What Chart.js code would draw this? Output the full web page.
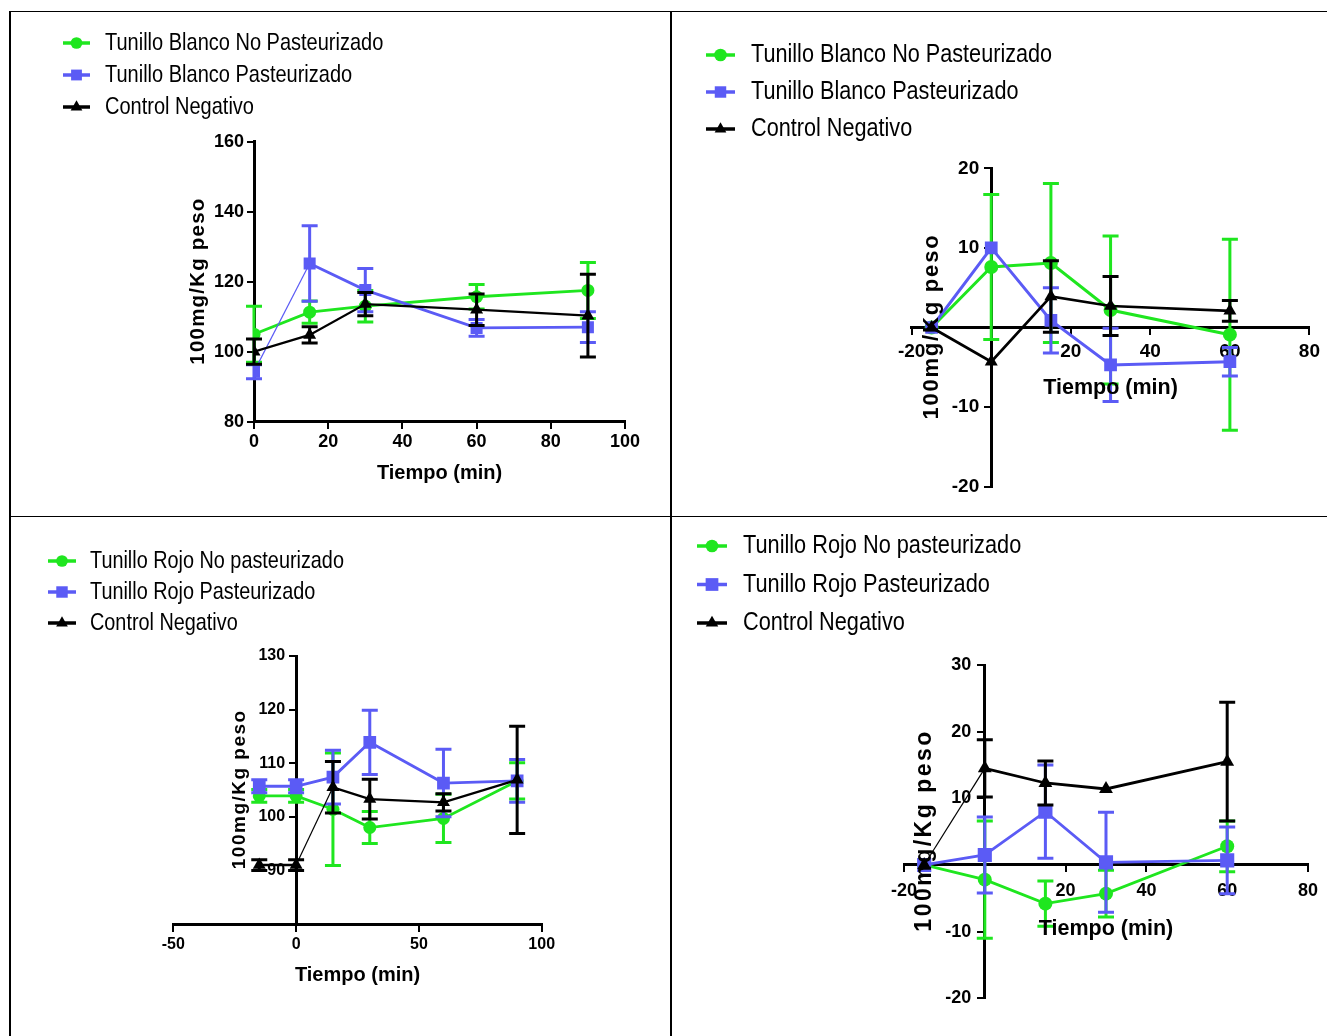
<!DOCTYPE html>
<html>
<head>
<meta charset="utf-8">
<script src="https://cdn.jsdelivr.net/npm/chart.js@4.4.1/dist/chart.umd.min.js"></script>
<style>
  html, body { margin: 0; padding: 0; background: #fff; }
  #page { position: relative; width: 1327px; height: 1036px; overflow: hidden; background: #fff; }
  .cell { position: absolute; }
  .cell canvas { display: block; }
  .rule { position: absolute; background: #000; }
</style>
</head>
<body>
<div id="page">
  <div class="rule" style="left:9px;top:11px;width:1318px;height:1px"></div>
  <div class="rule" style="left:9px;top:11px;width:2px;height:1025px"></div>
  <div class="rule" style="left:670px;top:11px;width:2px;height:1025px"></div>
  <div class="rule" style="left:9px;top:516px;width:1318px;height:1px"></div>
  <div class="cell" style="left:11px;top:12px"><canvas id="chart1"></canvas></div>
  <div class="cell" style="left:672px;top:12px"><canvas id="chart2"></canvas></div>
  <div class="cell" style="left:11px;top:517px"><canvas id="chart3"></canvas></div>
  <div class="cell" style="left:672px;top:517px"><canvas id="chart4"></canvas></div>
</div>
<script>
// ---- data ----
const xTitle = 'Tiempo (min)';
const yTitle = '100mg/Kg peso';
const labelsBlanco = ['Tunillo Blanco No Pasteurizado', 'Tunillo Blanco Pasteurizado', 'Control Negativo'];
const labelsRojo = ['Tunillo Rojo No pasteurizado', 'Tunillo Rojo Pasteurizado', 'Control Negativo'];

// top left: Tunillo Blanco
const timeBlanco = [0, 15, 30, 60, 90];
const blancoNoPast = [105, 111.3, 113, 115.7, 117.5];
const blancoNoPastErr = [8, 3.2, 4.5, 3.5, 8];
const blancoPast = [94.3, 125.2, 117.6, 106.8, 107];
const blancoPastErr = [2, 10.8, 6.2, 2.4, 4.4];
const blancoControl = [100, 104.8, 113.6, 112, 110.3];
const blancoControlErr = [3.6, 2.3, 3.3, 4.5, 11.8];

// top right: Tunillo Blanco, change
const timeBlancoDelta = [-15, 0, 15, 30, 60];
const blancoNoPastDelta = [0, 7.6, 8.1, 2.2, -0.9];
const blancoNoPastDeltaErr = [0, 9.1, 10, 9.3, 12];
const blancoPastDelta = [0, 10, 0.9, -4.7, -4.3];
const blancoPastDeltaErr = [0, 0, 4.1, 4.6, 1.8];
const blancoControlDelta = [0, -4.3, 3.9, 2.7, 2.1];
const blancoControlDeltaErr = [0, 0, 4.5, 3.7, 1.3];

// bottom left: Tunillo Rojo
const timeRojo = [-15, 0, 15, 30, 60, 90];
const rojoNoPast = [103.9, 103.9, 101.4, 98, 99.7, 106.7];
const rojoNoPastErr = [1.2, 1.2, 10.5, 3, 4.5, 3.4];
const rojoPast = [105.7, 105.7, 107.4, 113.9, 106.3, 106.7];
const rojoPastErr = [1.2, 1.2, 5, 6, 6.3, 4];
const rojoControl = [91, 91, 105.5, 103.3, 102.7, 106.9];
const rojoControlErr = [1, 1, 4.8, 3.7, 1.6, 10];

// bottom right: Tunillo Rojo, change
const timeRojoDelta = [-15, 0, 15, 30, 60];
const rojoNoPastDelta = [0, -2.2, -5.8, -4.3, 2.8];
const rojoNoPastDeltaErr = [0, 8.8, 3.4, 3.5, 3.8];
const rojoPastDelta = [0, 1.5, 8, 0.4, 0.7];
const rojoPastDeltaErr = [0, 5.7, 7, 7.5, 5];
const rojoControlDelta = [0, 14.5, 12.3, 11.4, 15.5];
const rojoControlDeltaErr = [0, 4.3, 3.3, 0, 8.9];

// ---- styling ----
const GREEN = '#1fe61f';
const BLUE = '#5b5bf5';
const BLACK = '#000000';
const FONT = '"Liberation Sans", Arial, Helvetica, sans-serif';

function hasFont(name) {
  const c = document.createElement('canvas').getContext('2d');
  c.font = '40px monospace';
  const a = c.measureText('Tunillo Blanco').width;
  c.font = `40px "${name}", monospace`;
  const b = c.measureText('Tunillo Blanco').width;
  return a !== b;
}
const narrowOk = hasFont('Liberation Sans Narrow');

// error bars drawn under each dataset's line and markers
const errorBars = {
  id: 'errorBars',
  beforeDatasetDraw(chart, args) {
    const ds = chart.data.datasets[args.index];
    if (!ds.errors) return;
    const { ctx, scales: { x, y } } = chart;
    const cap = ds.capHalf || 8;
    ctx.save();
    ctx.strokeStyle = ds.borderColor;
    ctx.lineWidth = ds.errorWidth || 3;
    ds.data.forEach((pt, i) => {
      const e = ds.errors[i];
      if (!e) return;
      const px = x.getPixelForValue(pt.x);
      const top = y.getPixelForValue(pt.y + e);
      const bot = y.getPixelForValue(pt.y - e);
      ctx.beginPath();
      ctx.moveTo(px, top); ctx.lineTo(px, bot);
      ctx.moveTo(px - cap, top); ctx.lineTo(px + cap, top);
      ctx.moveTo(px - cap, bot); ctx.lineTo(px + cap, bot);
      ctx.stroke();
    });
    ctx.restore();
  }
};

// centred y axes put their labels right on the axis line; push them left
const yLabelGap = {
  id: 'yLabelGap',
  beforeDraw(chart, args, opts) {
    const ys = chart.scales.y, xs = chart.scales.x;
    if (typeof ys.getLabelItems !== 'function') return;
    const axisX = xs.getPixelForValue(ys.options.position.x);
    ys.getLabelItems().forEach(item => {
      item.options.translation[0] = axisX - opts.gap;
      item.options.textAlign = 'right';
    });
  }
};

const axisTitles = {
  id: 'axisTitles',
  afterDraw(chart, args, opts) {
    const { ctx, scales: { x, y } } = chart;
    const axisY = y.getPixelForValue(x.options.position.y);
    const axisX = x.getPixelForValue(y.options.position.x);
    ctx.save();
    ctx.fillStyle = '#000';
    ctx.textAlign = 'center';
    ctx.textBaseline = 'middle';
    ctx.font = `bold ${opts.xSize}px ${FONT}`;
    ctx.fillText(xTitle, (x.left + x.right) / 2, axisY + opts.xOffset);
    ctx.translate(axisX - opts.yOffset, (y.top + y.bottom) / 2);
    ctx.rotate(-Math.PI / 2);
    ctx.font = `bold ${opts.ySize}px ${FONT}`;
    ctx.letterSpacing = opts.ySpacing + 'px';
    ctx.fillText(yTitle, opts.ySpacing / 2, 0);
    ctx.restore();
  }
};

const sideLegend = {
  id: 'sideLegend',
  afterDraw(chart, args, opts) {
    const { ctx } = chart;
    chart.data.datasets.forEach((ds, i) => {
      const cy = opts.top + i * opts.gap;
      ctx.save();
      ctx.strokeStyle = ds.borderColor;
      ctx.fillStyle = ds.borderColor;
      ctx.lineWidth = 3.5;
      ctx.beginPath();
      ctx.moveTo(opts.left, cy);
      ctx.lineTo(opts.left + opts.len, cy);
      ctx.stroke();
      Chart.helpers.drawPoint(ctx, { pointStyle: ds.pointStyle, radius: ds.pointRadius * 0.9, borderWidth: 0, rotation: 0 },
        opts.left + opts.len / 2, cy);
      ctx.fillStyle = '#000';
      ctx.textBaseline = 'middle';
      ctx.textAlign = 'left';
      if (narrowOk) {
        ctx.font = `${opts.size}px "Liberation Sans Narrow", "Arial Narrow", sans-serif`;
        ctx.fillText(ds.label, opts.textX, cy);
      } else {
        ctx.font = `${opts.size}px ${FONT}`;
        ctx.translate(opts.textX, cy);
        ctx.scale(0.82, 1);
        ctx.fillText(ds.label, 0, 0);
      }
      ctx.restore();
    });
  }
};

function series(label, time, values, errs, color, style, radius, width, thin) {
  return {
    label,
    data: time.map((t, i) => ({ x: t, y: values[i] })),
    errors: errs,
    showLine: true,
    borderColor: color,
    backgroundColor: color,
    borderWidth: width,
    pointStyle: style,
    pointRadius: radius,
    pointBorderWidth: 0,
    pointBackgroundColor: color,
    tension: 0,
    segment: {
      borderWidth: ctx => (thin && thin.includes(ctx.p0DataIndex)) ? 1.2 : undefined
    }
  };
}

function makeChart(id, p) {
  const cell = p.cell;
  const canvas = document.getElementById(id);
  canvas.width = cell.w;
  canvas.height = cell.h;
  canvas.style.width = cell.w + 'px';
  canvas.style.height = cell.h + 'px';
  const tickFont = { family: FONT, size: p.tickSize, weight: 'bold' };
  const grid = { drawOnChartArea: false, drawTicks: true, tickLength: 6, color: '#000', lineWidth: 2 };
  const border = { display: true, color: '#000', width: 3 };
  const datasets = [
    series(p.labels[0], p.time, p.values[0], p.errs[0], GREEN, 'circle', p.radius[0], p.widths[0], p.thin[0]),
    series(p.labels[1], p.time, p.values[1], p.errs[1], BLUE, 'rect', p.radius[1], p.widths[1], p.thin[1]),
    series(p.labels[2], p.time, p.values[2], p.errs[2], BLACK, 'triangle', p.radius[2], p.widths[2], p.thin[2])
  ];
  datasets[0].order = 2;
  datasets[1].order = 1;
  datasets[2].order = 0;
  return new Chart(canvas, {
    type: 'scatter',
    data: { datasets },
    options: {
      responsive: false,
      animation: false,
      events: [],
      layout: {
        padding: {
          left: p.plot.left - cell.x,
          top: p.plot.top - cell.y,
          right: cell.x + cell.w - p.plot.right,
          bottom: cell.y + cell.h - p.plot.bottom
        }
      },
      scales: {
        x: {
          type: 'linear',
          position: { y: p.xAxisAt },
          min: p.xMin, max: p.xMax,
          ticks: { stepSize: p.xStep, font: tickFont, color: '#000', padding: p.xPad, maxRotation: 0,
                   callback: v => p.hideX.includes(v) ? '' : String(v) },
          grid, border
        },
        y: {
          type: 'linear',
          position: { x: p.yAxisAt },
          min: p.yMin, max: p.yMax,
          ticks: { stepSize: p.yStep, font: tickFont, color: '#000',
                   callback: v => p.hideY.includes(v) ? '' : String(v) },
          grid, border
        }
      },
      plugins: {
        legend: { display: false },
        tooltip: { enabled: false },
        yLabelGap: { gap: p.yGap },
        axisTitles: p.titles,
        sideLegend: p.legend
      }
    },
    plugins: [errorBars, yLabelGap, axisTitles, sideLegend]
  });
}

function local(p) {
  // legend given in page coordinates -> cell coordinates
  p.legend = {
    left: p.legend.left - p.cell.x, len: p.legend.len, textX: p.legend.textX - p.cell.x,
    top: p.legend.top - p.cell.y, gap: p.legend.gap, size: p.legend.size
  };
  return p;
}

makeChart('chart1', local({
  cell: { x: 11, y: 12, w: 659, h: 504 },
  plot: { left: 254, right: 625, top: 141.7, bottom: 421.7 },
  xMin: 0, xMax: 100, xStep: 20, yMin: 80, yMax: 160, yStep: 20,
  xAxisAt: 80, yAxisAt: 0, hideX: [], hideY: [],
  tickSize: 18, xPad: 4, yGap: 10,
  labels: labelsBlanco, time: timeBlanco,
  values: [blancoNoPast, blancoPast, blancoControl],
  errs: [blancoNoPastErr, blancoPastErr, blancoControlErr],
  radius: [6.5, 8.5, 7.5], widths: [2.8, 2.8, 2.3], thin: [[], [0], []],
  titles: { xSize: 20, xOffset: 52, ySize: 20.5, yOffset: 56, ySpacing: 1.2 },
  legend: { left: 63, len: 27, textX: 105, top: 43, gap: 32, size: 24.4 }
}));

makeChart('chart2', local({
  cell: { x: 672, y: 12, w: 655, h: 504 },
  plot: { left: 911.7, right: 1313.3, top: 168.3, bottom: 486.7 },
  xMin: -20, xMax: 80, xStep: 20, yMin: -20, yMax: 20, yStep: 10,
  xAxisAt: 0, yAxisAt: 0, hideX: [0], hideY: [0],
  tickSize: 19, xPad: 7, yGap: 12,
  labels: labelsBlanco, time: timeBlancoDelta,
  values: [blancoNoPastDelta, blancoPastDelta, blancoControlDelta],
  errs: [blancoNoPastDeltaErr, blancoPastDeltaErr, blancoControlDeltaErr],
  radius: [7, 9, 7.5], widths: [3, 3, 2.7], thin: [[], [], []],
  titles: { xSize: 21.5, xOffset: 60.5, ySize: 22, yOffset: 59, ySpacing: 1.8 },
  legend: { left: 706, len: 29, textX: 751, top: 55, gap: 37, size: 26.4 }
}));

makeChart('chart3', local({
  cell: { x: 11, y: 517, w: 659, h: 519 },
  plot: { left: 173.3, right: 541.7, top: 656, bottom: 924 },
  xMin: -50, xMax: 100, xStep: 50, yMin: 80, yMax: 130, yStep: 10,
  xAxisAt: 80, yAxisAt: 0, hideX: [], hideY: [80],
  tickSize: 16, xPad: 5, yGap: 11,
  labels: labelsRojo, time: timeRojo,
  values: [rojoNoPast, rojoPast, rojoControl],
  errs: [rojoNoPastErr, rojoPastErr, rojoControlErr],
  radius: [6.5, 9, 7.5], widths: [2.8, 2.8, 2.4], thin: [[], [], [1]],
  titles: { xSize: 20, xOffset: 51, ySize: 19, yOffset: 56, ySpacing: 1.5 },
  legend: { left: 48, len: 28, textX: 90, top: 561, gap: 31, size: 24.2 }
}));

makeChart('chart4', local({
  cell: { x: 672, y: 517, w: 655, h: 519 },
  plot: { left: 904, right: 1308.3, top: 665, bottom: 998.3 },
  xMin: -20, xMax: 80, xStep: 20, yMin: -20, yMax: 30, yStep: 10,
  xAxisAt: 0, yAxisAt: 0, hideX: [0], hideY: [0],
  tickSize: 18, xPad: 9, yGap: 13.5,
  labels: labelsRojo, time: timeRojoDelta,
  values: [rojoNoPastDelta, rojoPastDelta, rojoControlDelta],
  errs: [rojoNoPastDeltaErr, rojoPastDeltaErr, rojoControlDeltaErr],
  radius: [7, 10, 8], widths: [2.8, 2.8, 2.8], thin: [[], [], [0]],
  titles: { xSize: 21.5, xOffset: 64, ySize: 23, yOffset: 60, ySpacing: 2.5 },
  legend: { left: 697, len: 30, textX: 743, top: 546, gap: 38.5, size: 26.5 }
}));
</script>
</body>
</html>
